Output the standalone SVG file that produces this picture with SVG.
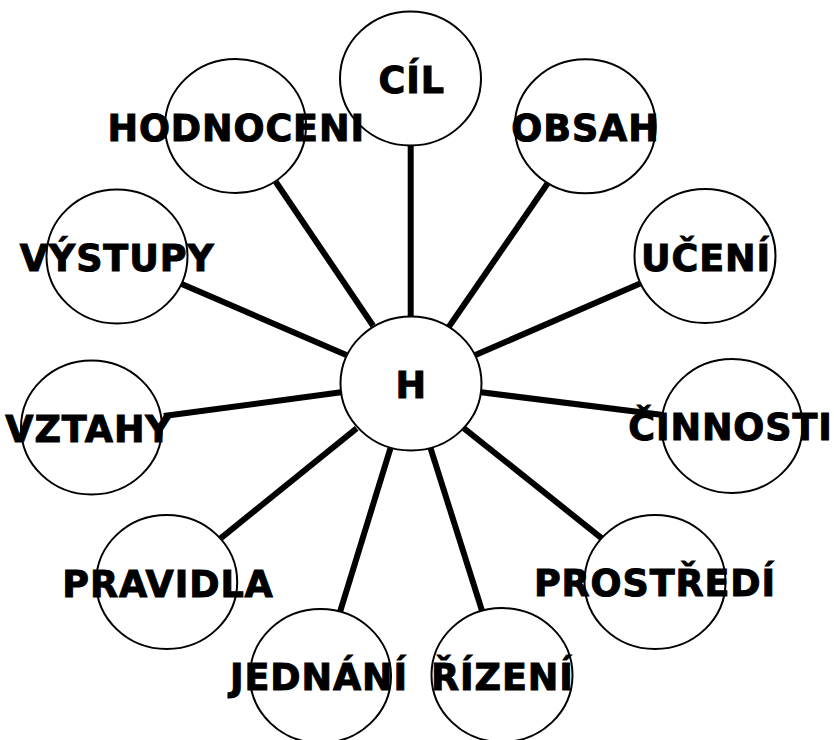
<svg xmlns="http://www.w3.org/2000/svg" width="834" height="740" viewBox="0 0 834 740">
<style>
.n ellipse{fill:#fff;stroke:#000;stroke-width:2}
.n text{font-family:"DejaVu Sans",Verdana,sans-serif;font-weight:bold;font-size:36.5px;letter-spacing:0.9px;text-anchor:middle;fill:#000;stroke:#000;stroke-width:1px}
#edges line{stroke:#000;stroke-width:6;stroke-linecap:butt}
</style>
<rect width="834" height="740" fill="#fff"/>
<g id="edges">
<line x1="410.7" y1="145" x2="410.7" y2="317"/>
<line x1="275.7" y1="181.7" x2="373.1" y2="325.7"/>
<line x1="547.7" y1="183.3" x2="448.9" y2="326.7"/>
<line x1="181.7" y1="284" x2="346.3" y2="355"/>
<line x1="640.7" y1="283.3" x2="475.4" y2="355"/>
<line x1="163.8" y1="416" x2="341.1" y2="392.3"/>
<line x1="481.3" y1="392.3" x2="663.1" y2="415"/>
<line x1="220.6" y1="538.3" x2="356.6" y2="428.3"/>
<line x1="464" y1="428.3" x2="601.8" y2="538.3"/>
<line x1="390.4" y1="448.3" x2="340.1" y2="611.7"/>
<line x1="430.6" y1="448.3" x2="482.3" y2="611.7"/>
</g>
<g id="n-h" class="n"><ellipse cx="411" cy="383.5" rx="70.5" ry="67"/><text x="411.2" y="397.5">H</text></g>
<g id="n-cil" class="n"><ellipse cx="410.5" cy="78.5" rx="70.5" ry="67"/><text x="411.7" y="92.5">CÍL</text></g>
<g id="n-hodnoceni" class="n"><ellipse cx="235.5" cy="126" rx="70.5" ry="67"/><text x="236.2" y="140.5">HODNOCENI</text></g>
<g id="n-obsah" class="n"><ellipse cx="585.3" cy="126.3" rx="70.5" ry="67"/><text x="585.5" y="140.5">OBSAH</text></g>
<g id="n-vystupy" class="n"><ellipse cx="117" cy="256.5" rx="70.5" ry="67"/><text x="117.2" y="270.5">VÝSTUPY</text></g>
<g id="n-uceni" class="n"><ellipse cx="705" cy="256" rx="70.5" ry="67"/><text x="706" y="271">UČENÍ</text></g>
<g id="n-vztahy" class="n"><ellipse cx="91.5" cy="427.5" rx="70.5" ry="67"/><text x="89" y="441.5">VZTAHY</text></g>
<g id="n-cinnosti" class="n"><ellipse cx="732" cy="426" rx="70.5" ry="67"/><text x="730.5" y="439.8">ČINNOSTI</text></g>
<g id="n-pravidla" class="n"><ellipse cx="166.7" cy="582" rx="70.5" ry="67"/><text x="168" y="597">PRAVIDLA</text></g>
<g id="n-prostredi" class="n"><ellipse cx="655" cy="582" rx="70.5" ry="67"/><text x="655" y="595.5">PROSTŘEDÍ</text></g>
<g id="n-jednani" class="n"><ellipse cx="320.5" cy="676" rx="70.5" ry="67"/><text x="319" y="689.5">JEDNÁNÍ</text></g>
<g id="n-rizeni" class="n"><ellipse cx="502" cy="675" rx="70.5" ry="67"/><text x="502.4" y="689.8">ŘÍZENÍ</text></g>
</svg>
